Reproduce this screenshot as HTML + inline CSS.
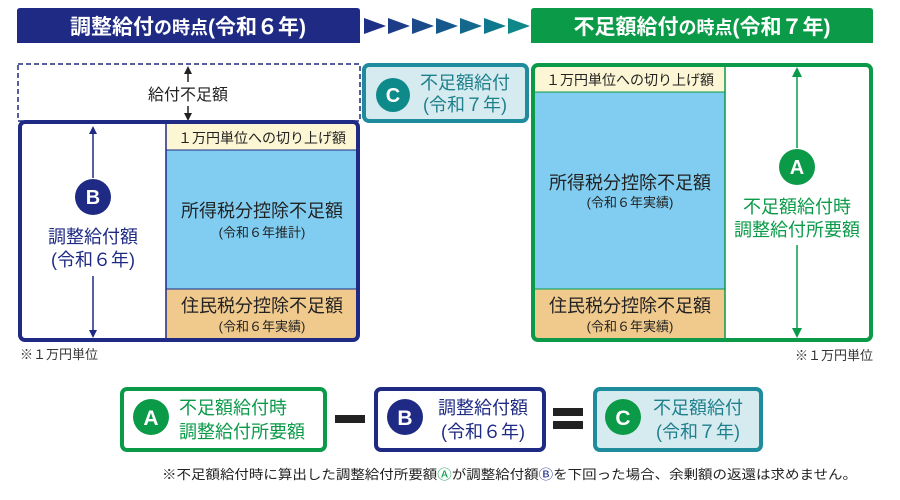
<!DOCTYPE html>
<html><head><meta charset="utf-8"><style>
html,body{margin:0;padding:0;background:#fff;}
svg{display:block;font-family:"Liberation Sans","Noto Sans CJK JP",sans-serif;}
</style></head><body>
<svg width="900" height="500" viewBox="0 0 900 500" xmlns="http://www.w3.org/2000/svg">
<defs>
<marker id="an" markerWidth="8" markerHeight="8" refX="4" refY="4" orient="auto-start-reverse" markerUnits="userSpaceOnUse"><path d="M0,0 L8,4 L0,8 Z" fill="#1e2a84"/></marker>
<marker id="ag" markerWidth="10" markerHeight="10" refX="5" refY="5" orient="auto-start-reverse" markerUnits="userSpaceOnUse"><path d="M0,0 L10,5 L0,10 Z" fill="#0a9a48"/></marker>
<marker id="ak" markerWidth="8" markerHeight="8" refX="4" refY="4" orient="auto-start-reverse" markerUnits="userSpaceOnUse"><path d="M0,0 L8,4 L0,8 Z" fill="#222"/></marker>
</defs>
<!-- headers -->
<path d="M17,43 V11 Q17,8 20,8 H357 Q360,8 360,11 V43 Z" fill="#1e2a84"/>
<text x="188" y="34" text-anchor="middle" fill="#fff" font-size="21" font-weight="bold">調整給付<tspan font-size="18">の時点</tspan>(令和６年)</text>
<g>
<path d="M364,18 L386,26 L364,34 Z" fill="#1e2f86"/>
<path d="M388,18 L410,26 L388,34 Z" fill="#1c3c88"/>
<path d="M412,18 L434,26 L412,34 Z" fill="#1a4a8a"/>
<path d="M436,18 L458,26 L436,34 Z" fill="#17588c"/>
<path d="M460,18 L482,26 L460,34 Z" fill="#13688c"/>
<path d="M484,18 L506,26 L484,34 Z" fill="#10788c"/>
<path d="M508,18 L530,26 L508,34 Z" fill="#0e8888"/>
</g>
<path d="M531,43 V11 Q531,8 534,8 H870 Q873,8 873,11 V43 Z" fill="#0a9a48"/>
<text x="702" y="34" text-anchor="middle" fill="#fff" font-size="21" font-weight="bold">不足額給付<tspan font-size="18">の時点</tspan>(令和７年)</text>

<!-- left dashed -->
<rect x="18" y="64" width="342" height="57" fill="none" stroke="#1e2a84" stroke-width="1.5" stroke-dasharray="5,3"/>
<line x1="188" y1="70" x2="188" y2="82" stroke="#222" stroke-width="1.5" marker-start="url(#ak)"/>
<line x1="188" y1="106" x2="188" y2="117" stroke="#222" stroke-width="1.5" marker-end="url(#ak)"/>
<text x="188" y="100" text-anchor="middle" font-size="16" fill="#222">給付不足額</text>

<!-- left main -->
<rect x="166" y="124" width="191" height="26" fill="#fdf6d4"/>
<rect x="166" y="150" width="191" height="139" fill="#80cdf1"/>
<rect x="166" y="289" width="191" height="50" fill="#f0c98c"/>
<line x1="166" y1="150" x2="357" y2="150" stroke="#1e2a84" stroke-width="1"/>
<line x1="166" y1="289" x2="357" y2="289" stroke="#1e2a84" stroke-width="1"/>
<line x1="166" y1="122" x2="166" y2="340" stroke="#1e2a84" stroke-width="1.5"/>
<rect x="20" y="122" width="338" height="218" rx="5" fill="none" stroke="#1e2a84" stroke-width="4"/>
<text x="262" y="143" text-anchor="middle" font-size="14" fill="#222">１万円単位への切り上げ額</text>
<text x="262" y="217" text-anchor="middle" font-size="18" fill="#222">所得税分控除不足額</text>
<text x="262" y="237" text-anchor="middle" font-size="13" fill="#222">(令和６年推計)</text>
<text x="262" y="312" text-anchor="middle" font-size="18" fill="#222">住民税分控除不足額</text>
<text x="262" y="331" text-anchor="middle" font-size="13" fill="#222">(令和６年実績)</text>
<line x1="93" y1="130" x2="93" y2="178" stroke="#1e2a84" stroke-width="1.5" marker-start="url(#an)"/>
<line x1="93" y1="276" x2="93" y2="334" stroke="#1e2a84" stroke-width="1.5" marker-end="url(#an)"/>
<circle cx="93" cy="197" r="18" fill="#1e2a84"/>
<text x="93" y="204" text-anchor="middle" font-size="20" font-weight="bold" fill="#fff">B</text>
<text x="93" y="243" text-anchor="middle" font-size="18" fill="#1e2a84">調整給付額</text>
<text x="93" y="266" text-anchor="middle" font-size="18" fill="#1e2a84">(令和６年)</text>
<text x="20" y="359" font-size="13" fill="#333">※１万円単位</text>

<!-- C box -->
<rect x="364" y="65" width="163" height="56" rx="5" fill="#d6ebef" stroke="#1e8c9c" stroke-width="4"/>
<circle cx="393" cy="95" r="17" fill="#0e8a8a"/>
<text x="393" y="102" text-anchor="middle" font-size="20" font-weight="bold" fill="#fff">C</text>
<text x="465" y="89" text-anchor="middle" font-size="18" fill="#1e7f8c">不足額給付</text>
<text x="465" y="111" text-anchor="middle" font-size="18" fill="#1e7f8c">(令和７年)</text>

<!-- right main -->
<rect x="535" y="67" width="190" height="25" fill="#fdf6d4"/>
<rect x="535" y="92" width="190" height="197" fill="#80cdf1"/>
<rect x="535" y="289" width="190" height="50" fill="#f0c98c"/>
<line x1="535" y1="92" x2="725" y2="92" stroke="#0a9a48" stroke-width="1"/>
<line x1="535" y1="289" x2="725" y2="289" stroke="#0a9a48" stroke-width="1"/>
<line x1="725" y1="67" x2="725" y2="340" stroke="#0a9a48" stroke-width="1.5"/>
<rect x="533" y="65" width="338" height="275" rx="5" fill="none" stroke="#0a9a48" stroke-width="4"/>
<text x="630" y="85" text-anchor="middle" font-size="14" fill="#222">１万円単位への切り上げ額</text>
<text x="630" y="189" text-anchor="middle" font-size="18" fill="#222">所得税分控除不足額</text>
<text x="630" y="207" text-anchor="middle" font-size="13" fill="#222">(令和６年実績)</text>
<text x="630" y="312" text-anchor="middle" font-size="18" fill="#222">住民税分控除不足額</text>
<text x="630" y="331" text-anchor="middle" font-size="13" fill="#222">(令和６年実績)</text>
<line x1="797" y1="72" x2="797" y2="148" stroke="#0a9a48" stroke-width="1.5" marker-start="url(#ag)"/>
<line x1="797" y1="245" x2="797" y2="333" stroke="#0a9a48" stroke-width="1.5" marker-end="url(#ag)"/>
<circle cx="797" cy="167" r="18" fill="#0a9a48"/>
<text x="797" y="174" text-anchor="middle" font-size="20" font-weight="bold" fill="#fff">A</text>
<text x="797" y="213" text-anchor="middle" font-size="18" fill="#0a9a48">不足額給付時</text>
<text x="797" y="236" text-anchor="middle" font-size="18" fill="#0a9a48">調整給付所要額</text>
<text x="873" y="360" text-anchor="end" font-size="13" fill="#333">※１万円単位</text>

<!-- formula -->
<rect x="122" y="389" width="203" height="61" rx="5" fill="#fff" stroke="#0a9a48" stroke-width="4"/>
<circle cx="151" cy="417" r="18" fill="#0a9a48"/>
<text x="151" y="425" text-anchor="middle" font-size="21" font-weight="bold" fill="#fff">A</text>
<text x="179" y="414" font-size="18" fill="#0a9a48">不足額給付時</text>
<text x="179" y="438" font-size="18" fill="#0a9a48">調整給付所要額</text>
<rect x="335" y="415" width="30" height="8" fill="#222"/>
<rect x="376" y="389" width="168" height="61" rx="5" fill="#fff" stroke="#1e2a84" stroke-width="4"/>
<circle cx="405" cy="417" r="18" fill="#1e2a84"/>
<text x="405" y="425" text-anchor="middle" font-size="21" font-weight="bold" fill="#fff">B</text>
<text x="483" y="414" text-anchor="middle" font-size="18" fill="#1e2a84">調整給付額</text>
<text x="483" y="438" text-anchor="middle" font-size="18" fill="#1e2a84">(令和６年)</text>
<rect x="553" y="408" width="30" height="8" fill="#222"/>
<rect x="553" y="421" width="30" height="8" fill="#222"/>
<rect x="595" y="389" width="166" height="61" rx="5" fill="#d6ebef" stroke="#1e8c9c" stroke-width="4"/>
<circle cx="623" cy="417" r="18" fill="#0a9a48"/>
<text x="623" y="425" text-anchor="middle" font-size="21" font-weight="bold" fill="#fff">C</text>
<text x="698" y="414" text-anchor="middle" font-size="18" fill="#1e7f8c">不足額給付</text>
<text x="698" y="438" text-anchor="middle" font-size="18" fill="#1e7f8c">(令和７年)</text>
<text x="162" y="479" font-size="13" fill="#222" textLength="695" lengthAdjust="spacingAndGlyphs">※不足額給付時に算出した調整給付所要額<tspan fill="#0a9a48">Ⓐ</tspan>が調整給付額<tspan fill="#1e2a84">Ⓑ</tspan>を下回った場合、余剰額の返還は求めません。</text>
</svg>
</body></html>
